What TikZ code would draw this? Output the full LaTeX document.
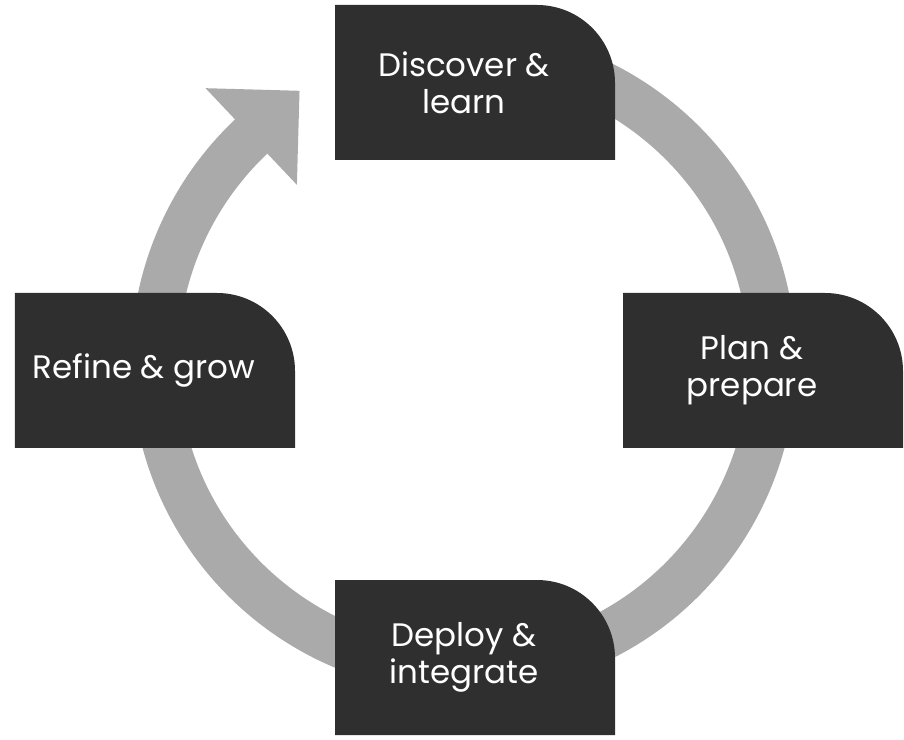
\documentclass[tikz,border=0pt]{standalone}
\usepackage{fontspec}
\setmainfont{Poppins}
\usepackage{tikz}
\usetikzlibrary{calc}
\definecolor{boxdark}{HTML}{2F2F2F}
\definecolor{ringgrey}{HTML}{AAAAAA}
% box with one round corner: name, left, top, text
\def\stagebox#1#2#3#4{
  \fill[boxdark] (#2,#3) -- ++(0,-1.55) -- ++(2.8,0) -- ++(0,0.77)
    arc[start angle=0,end angle=90,radius=0.78] -- cycle;
  \node[stage] (#1) at ({#2+1.29},{#3-0.775}) {#4};
}

\begin{document}
\begin{tikzpicture}[
  stage/.style={text=white, align=center, inner sep=0pt, font=\fontsize{9.25}{10.6}\selectfont},
  ring/.style={draw=ringgrey, line width=4.7mm}
]
  \useasboundingbox (0,0) rectangle (9.04,7.39);
  \coordinate (ctr) at (4.635,3.78);
  % the cycle ring, starts under the first box
  \draw[ring] (ctr) ++(100:3.09) arc[start angle=100,end angle=-226.8,radius=3.09];
  \coordinate (head) at ($(ctr)+(133.4:3.09)$);
  \fill[ringgrey] ($(head)+(133.4:0.665)$) -- ($(head)+(43.4:0.665)$)
    -- ($(head)+(-46.6:0.665)$) -- cycle;
  \stagebox{discover}{3.35}{7.34}{Discover \&\\learn}
  \stagebox{plan}{6.23}{4.46}{Plan \&\\prepare}
  \stagebox{deploy}{3.35}{1.59}{Deploy \&\\integrate}
  \stagebox{refine}{0.15}{4.46}{Refine \& grow}
\end{tikzpicture}
\end{document}
